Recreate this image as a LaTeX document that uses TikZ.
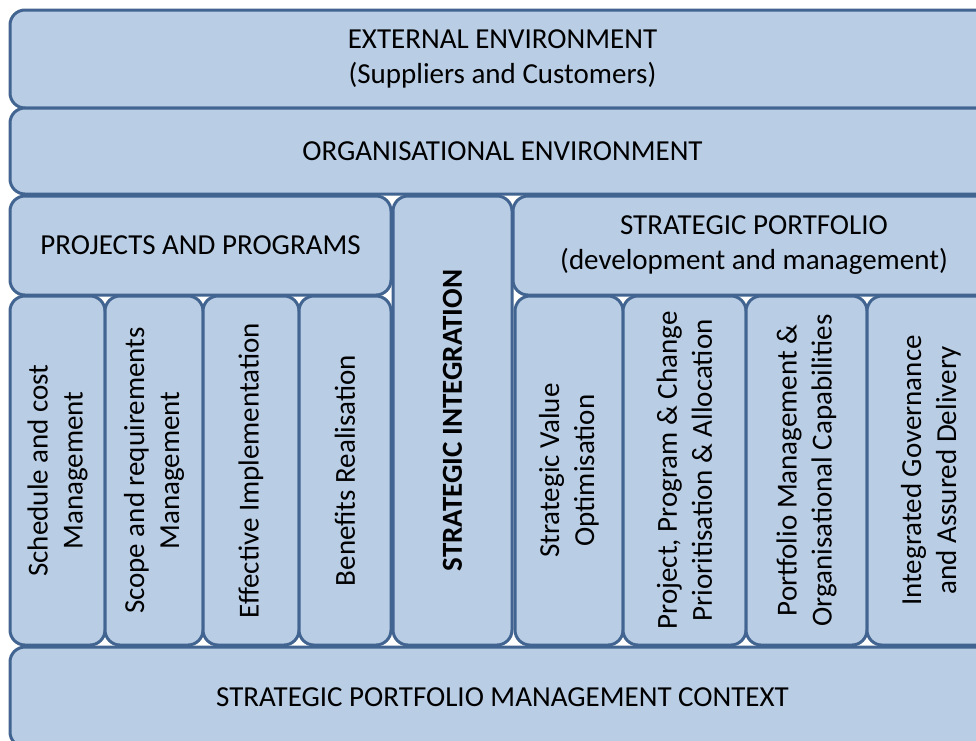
\documentclass[tikz,border=0pt]{standalone}
\usepackage{fontspec}
\setmainfont{Carlito}
\usepackage{tikz}
\definecolor{panelfill}{RGB}{185,205,229}
\definecolor{panelline}{RGB}{65,100,145}

\begin{document}
\begin{tikzpicture}[x=1pt, y=-1pt,
		panel/.style={draw=panelline, fill=panelfill, line width=3pt, rounded corners=15pt,
			inner sep=0pt, align=center, font=\fontsize{29}{35}\selectfont},
		column/.style={panel, rotate=90, minimum width=349pt}]
		
		% fix the page size
		\useasboundingbox (0,0) rectangle (976,740);
		
		% the two environment bands on top
		\node[panel, minimum width=985pt, minimum height=98pt] (external) at (502.5,59)
			{EXTERNAL ENVIRONMENT\\(Suppliers and Customers)};
		\node[panel, minimum width=985pt, minimum height=86pt] (organisation) at (502.5,151)
			{ORGANISATIONAL ENVIRONMENT};
		
		% headers of the two halves
		\node[panel, minimum width=381pt, minimum height=99pt] (projects) at (200.5,245.5)
			{PROJECTS AND PROGRAMS};
		\node[panel, minimum width=482pt, minimum height=99pt] (portfolio) at (754,245.5)
			{STRATEGIC PORTFOLIO\\(development and management)};
		
		% the middle pillar
		\node[column, minimum width=449pt, minimum height=119pt, font=\fontsize{29}{35}\selectfont\bfseries]
			(integration) at (452.5,420.5) {STRATEGIC INTEGRATION};
		
		% columns under projects and programs
		\node[column, minimum height=95pt] (schedule) at (57.5,470.5) {Schedule and cost\\Management};
		\node[column, minimum height=98pt] (scope) at (154,470.5) {Scope and requirements\\Management};
		\node[column, minimum height=96pt] (implement) at (251,470.5) {Effective Implementation};
		\node[column, minimum height=92pt] (benefits) at (345,470.5) {Benefits Realisation};
		
		% columns under the strategic portfolio
		\node[column, minimum height=108pt] (value) at (569,470.5) {Strategic Value\\Optimisation};
		\node[column, minimum height=123pt] (priority) at (684.5,470.5)
			{Project, Program \& Change\\Prioritisation \& Allocation};
		\node[column, minimum height=121pt] (capability) at (806.5,470.5)
			{Portfolio Management \&\\Organisational Capabilities};
		\node[column, minimum height=128pt] (governance) at (931,470.5)
			{Integrated Governance\\and Assured Delivery};
		
		% base band
		\node[panel, minimum width=985pt, minimum height=100pt] (context) at (502.5,697)
			{STRATEGIC PORTFOLIO MANAGEMENT CONTEXT};
	\end{tikzpicture}
\end{document}
